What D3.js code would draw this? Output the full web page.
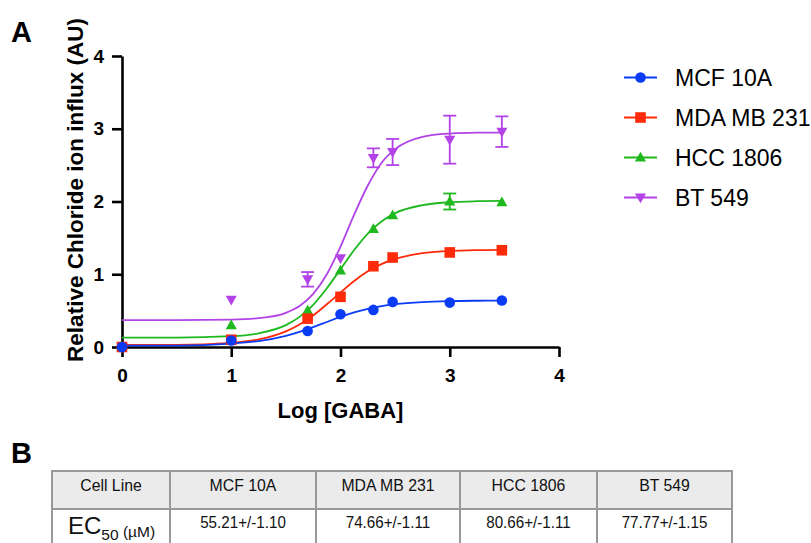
<!DOCTYPE html>
<html>
<head>
<meta charset="utf-8">
<script src="https://cdn.jsdelivr.net/npm/d3@7"></script>
<style>
  body { margin: 0; background: #fff; }
  svg { display: block; font-family: "Liberation Sans", Arial, sans-serif; }
</style>
</head>
<body>
<div id="chart"></div>
<script>
// log [GABA] of the measured doses
var doses = [0, 1, 1.699, 2, 2.301, 2.477, 3, 3.477];

// mean responses per cell line
var mcf10a = [0, 0.09, 0.22, 0.45, 0.51, 0.62, 0.61, 0.64];
var mdamb231 = [0, 0.10, 0.39, 0.69, 1.11, 1.23, 1.30, 1.33];
var hcc1806 = [0, 0.30, 0.50, 1.05, 1.62, 1.81, 2.00, 1.99];
var bt549 = [0, 0.65, 0.93, 1.22, 2.60, 2.68, 2.85, 2.96];

// error bars (SEM), 0 where hidden by the marker
var mcf10aErr = [0, 0, 0, 0, 0, 0, 0, 0];
var mdamb231Err = [0, 0, 0, 0, 0, 0, 0, 0];
var hcc1806Err = [0, 0, 0, 0, 0, 0, 0.11, 0];
var bt549Err = [0, 0, 0.10, 0, 0.13, 0.18, 0.33, 0.21];

// fitted curves
var fitX = [0, 0.5, 1, 1.25, 1.5, 1.625, 1.75, 1.875, 2, 2.125, 2.25, 2.375, 2.5, 2.75, 3, 3.25, 3.477];
var mcf10aFit = [0.02, 0.02, 0.046, 0.081, 0.154, 0.208, 0.274, 0.344, 0.414, 0.475, 0.524, 0.562, 0.588, 0.618, 0.631, 0.636, 0.638];
var mdamb231Fit = [0.03, 0.03, 0.058, 0.104, 0.214, 0.309, 0.434, 0.587, 0.75, 0.907, 1.04, 1.14, 1.21, 1.29, 1.32, 1.332, 1.336];
var hcc1806Fit = [0.13, 0.13, 0.149, 0.188, 0.30, 0.414, 0.58, 0.807, 1.07, 1.333, 1.56, 1.726, 1.84, 1.95, 1.99, 2.004, 2.008];
var bt549Fit = [0.37, 0.37, 0.377, 0.396, 0.47, 0.563, 0.73, 1.00, 1.38, 1.82, 2.22, 2.53, 2.72, 2.89, 2.934, 2.946, 2.948];

var names = ["MCF 10A", "MDA MB 231", "HCC 1806", "BT 549"];
var colors = ["#0b3cf5", "#ff2a0a", "#1fb81f", "#b343e6"];
var shapes = ["circle", "square", "triangle", "down"];

var xTicks = [0, 1, 2, 3, 4];
var yTicks = [0, 1, 2, 3, 4];

// table B
var tableHeader = ["Cell Line", "MCF 10A", "MDA MB 231", "HCC 1806", "BT 549"];
var ec50 = ["55.21+/-1.10", "74.66+/-1.11", "80.66+/-1.11", "77.77+/-1.15"];

var series = [
    {means: mcf10a, err: mcf10aErr, fit: mcf10aFit},
    {means: mdamb231, err: mdamb231Err, fit: mdamb231Fit},
    {means: hcc1806, err: hcc1806Err, fit: hcc1806Fit},
    {means: bt549, err: bt549Err, fit: bt549Fit}
].map(function(s, i) {
    s.name = names[i]; s.color = colors[i]; s.shape = shapes[i];
    return s;
});

var width = 811, height = 543;
var svg = d3.select("#chart").append("svg")
    .attr("width", width).attr("height", height);
svg.append("rect").attr("width", width).attr("height", height).attr("fill", "#fff");

var x = d3.scaleLinear().domain([0, 4]).range([122, 559]);
var y = d3.scaleLinear().domain([0, 4]).range([347, 56]);

function marker(sel, shape, r) {
    if (shape == "circle") {
        sel.append("circle").attr("r", r);
    } else if (shape == "square") {
        sel.append("rect").attr("x", -r).attr("y", -r).attr("width", 2*r).attr("height", 2*r);
    } else if (shape == "triangle") {
        sel.append("path").attr("d", "M0," + (-r*1.1) + "L" + (r*1.05) + "," + (r*0.75) + "L" + (-r*1.05) + "," + (r*0.75) + "Z");
    } else {
        sel.append("path").attr("d", "M0," + (r*1.1) + "L" + (r*1.05) + "," + (-r*0.75) + "L" + (-r*1.05) + "," + (-r*0.75) + "Z");
    }
}

// squeeze a text a bit, the table font is narrower than Arial
function squeeze(t, k) {
    var n = t.node().getComputedTextLength();
    t.attr("textLength", n * k).attr("lengthAdjust", "spacingAndGlyphs");
}

// panel letters
svg.append("text").attr("x", 11).attr("y", 42)
    .style("font-size", "29px").style("font-weight", "bold").text("A");
svg.append("text").attr("x", 11).attr("y", 463)
    .style("font-size", "29px").style("font-weight", "bold").text("B");

// axes
var xAxis = svg.append("g")
    .attr("transform", "translate(0," + y(0) + ")")
    .call(d3.axisBottom(x).tickValues(xTicks).tickFormat(d3.format("d"))
          .tickSize(10).tickSizeOuter(0).tickPadding(12));
var yAxis = svg.append("g")
    .attr("transform", "translate(" + x(0) + ",0)")
    .call(d3.axisLeft(y).tickValues(yTicks).tickFormat(d3.format("d"))
          .tickSize(10).tickSizeOuter(0).tickPadding(8));
[xAxis, yAxis].forEach(function(a) {
    a.select(".domain").attr("stroke", "#000").attr("stroke-width", 2.6);
    a.selectAll(".tick line").attr("stroke", "#000").attr("stroke-width", 2.6);
    a.selectAll(".tick text").attr("fill", "#000")
        .style("font-size", "19px").style("font-weight", "bold")
        .style("font-family", "'Liberation Sans', Arial, sans-serif");
});

svg.append("text")
    .attr("x", (x(0) + x(4)) / 2).attr("y", 418)
    .attr("text-anchor", "middle")
    .style("font-size", "22px").style("font-weight", "bold")
    .text("Log [GABA]");
svg.append("text")
    .attr("transform", "translate(83,190) rotate(-90)")
    .attr("text-anchor", "middle")
    .style("font-size", "22.5px").style("font-weight", "bold")
    .text("Relative Chloride ion influx (AU)");

// DRAW the curves, error bars and points (first series on top)
var line = d3.line()
    .curve(d3.curveMonotoneX)
    .x(function(d) { return x(d.x); })
    .y(function(d) { return y(d.y); });

var plot = svg.append("g");
series.slice().reverse().forEach(function(s) {
    plot.append("path")
        .datum(fitX.map(function(xx, i) { return {x: xx, y: s.fit[i]}; }))
        .attr("fill", "none")
        .attr("stroke", s.color)
        .attr("stroke-width", 1.8)
        .attr("d", line);
});
series.slice().reverse().forEach(function(s) {
    var g = plot.append("g");
    doses.forEach(function(dd, i) {
        var e = s.err[i];
        if (e > 0) {
            var eb = g.append("g").attr("stroke", s.color).attr("stroke-width", 1.8);
            eb.append("line").attr("x1", x(dd)).attr("x2", x(dd))
                .attr("y1", y(s.means[i] - e)).attr("y2", y(s.means[i] + e));
            [s.means[i] - e, s.means[i] + e].forEach(function(v) {
                eb.append("line").attr("x1", x(dd) - 6.5).attr("x2", x(dd) + 6.5)
                    .attr("y1", y(v)).attr("y2", y(v));
            });
        }
        var m = g.append("g")
            .attr("transform", "translate(" + x(dd) + "," + y(s.means[i]) + ")")
            .attr("fill", s.color);
        marker(m, s.shape, 5.3);
    });
});

// legend
var legend = svg.append("g");
var legendY = d3.scalePoint().domain(names).range([77.5, 197.5]);
series.forEach(function(s) {
    var ly = legendY(s.name);
    legend.append("line")
        .attr("x1", 624).attr("x2", 657).attr("y1", ly).attr("y2", ly)
        .attr("stroke", s.color).attr("stroke-width", 1.8);
    var m = legend.append("g").attr("transform", "translate(640.5," + ly + ")").attr("fill", s.color);
    marker(m, s.shape, 5.3);
    legend.append("text")
        .attr("x", 675).attr("y", ly + 8)
        .style("font-size", "23px")
        .text(s.name);
});

// Table B
var colEdges = [52, 170, 316, 460, 597, 732];
var rowEdges = [471, 509, 560];
var table = svg.append("g");
table.append("rect")
    .attr("x", colEdges[0]).attr("y", rowEdges[0])
    .attr("width", colEdges[5] - colEdges[0]).attr("height", rowEdges[1] - rowEdges[0])
    .attr("fill", "#ebebeb");
tableHeader.forEach(function(h, i) {
    var t = table.append("text")
        .attr("x", (colEdges[i] + colEdges[i+1]) / 2).attr("y", 491)
        .attr("text-anchor", "middle")
        .style("font-size", "17px").attr("fill", "#111")
        .text(h);
    squeeze(t, 0.93);
});
ec50.forEach(function(v, i) {
    var t = table.append("text")
        .attr("x", (colEdges[i+1] + colEdges[i+2]) / 2).attr("y", 528)
        .attr("text-anchor", "middle")
        .style("font-size", "16.5px").attr("fill", "#111")
        .text(v);
    squeeze(t, 0.92);
});
var ecLabel = table.append("text").attr("x", 68).attr("y", 534).attr("fill", "#111");
ecLabel.append("tspan").style("font-size", "24px").text("EC");
ecLabel.append("tspan").style("font-size", "15.5px").attr("dy", 6).text("50");
ecLabel.append("tspan").style("font-size", "15.5px").attr("dy", -3).text(" (µM)");

var gridG = table.append("g").attr("stroke", "#999").attr("stroke-width", 2);
colEdges.forEach(function(cx) {
    gridG.append("line").attr("x1", cx).attr("x2", cx).attr("y1", rowEdges[0]).attr("y2", rowEdges[2]);
});
rowEdges.slice(0, 2).forEach(function(ry) {
    gridG.append("line").attr("x1", colEdges[0] - 1).attr("x2", colEdges[5] + 1).attr("y1", ry).attr("y2", ry);
});
</script>
</body>
</html>
